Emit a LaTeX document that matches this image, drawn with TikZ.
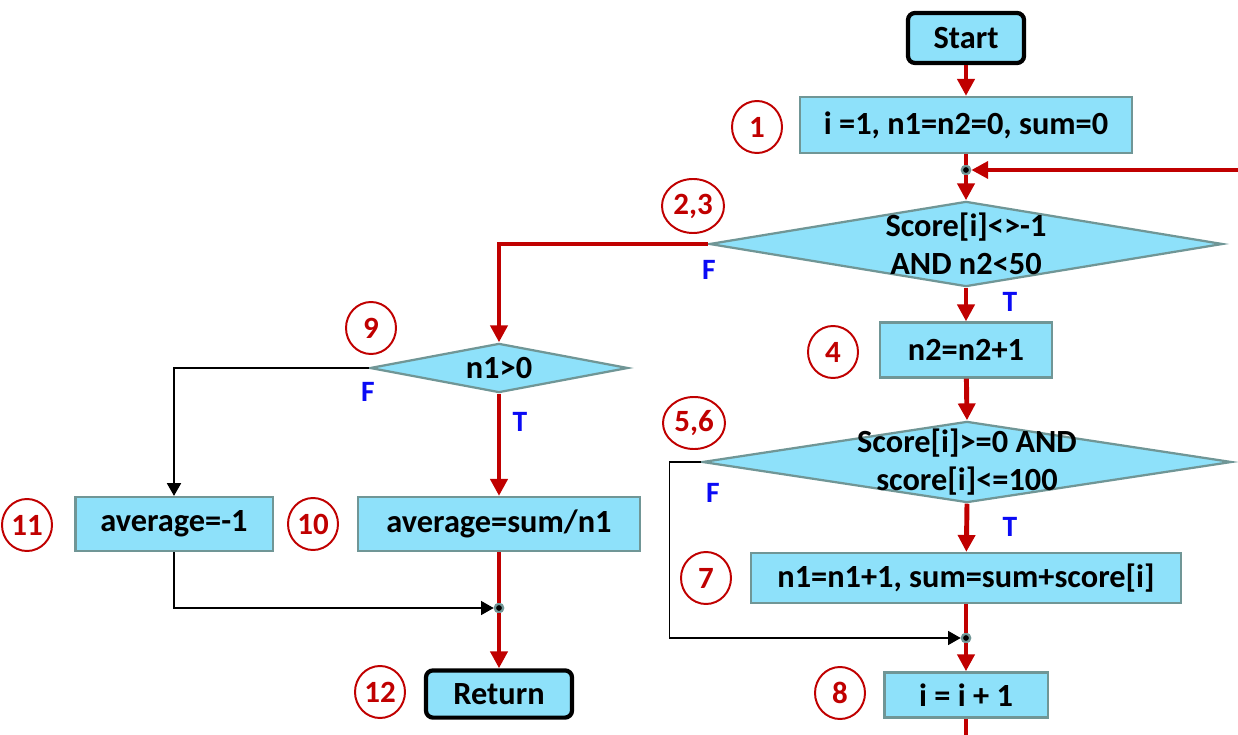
\documentclass[tikz,border=0pt]{standalone}
\usepackage{fontspec}
\setmainfont{Carlito}
\usepackage{tikz}
\usetikzlibrary{arrows.meta,shapes.geometric}
\definecolor{fcblue}{RGB}{142,225,250}
\definecolor{fcedge}{RGB}{112,150,150}
\definecolor{fcred}{RGB}{192,0,0}
\definecolor{fcflag}{RGB}{10,10,245}

\begin{document}
\begin{tikzpicture}[x=0.025cm,y=-0.025cm,font=\bfseries\fontsize{23}{27}\selectfont,
    every node/.style={align=center},
    proc/.style={draw=fcedge,line width=1.6pt,fill=fcblue,inner sep=0pt},
    term/.style={draw=black,line width=3pt,rounded corners=5pt,fill=fcblue,inner sep=0pt},
    cond/.style={diamond,draw=fcedge,line width=1.6pt,fill=fcblue,inner sep=0pt},
    num/.style={ellipse,draw=fcred,line width=1.4pt,text=fcred,inner sep=0pt,minimum width=1.25cm,minimum height=1.3cm,font=\bfseries\fontsize{22}{24}\selectfont},
    flag/.style={text=fcflag,font=\bfseries\fontsize{21}{22}\selectfont},
    dot/.style={circle,draw=fcedge,fill=black,line width=1.6pt,inner sep=0pt,minimum size=6pt},
    redline/.style={fcred,line width=3.5pt},
    redarrow/.style={redline,-{Triangle[length=12pt,width=12pt]}},
    blackline/.style={black,line width=1pt},
    blackarrow/.style={blackline,-{Triangle[length=9pt,width=10pt]}}]
    \useasboundingbox (0,0) rectangle (1238,735);
    % main column
    \node[term,minimum width=2.9cm,minimum height=1.25cm] (start) at (966,38) {Start};
    \node[proc,minimum width=8.28cm,minimum height=1.4cm] (init) at (966,125) {i =1, n1=n2=0, sum=0};
    \node[dot] (j1) at (966,170) {};
    \node[cond,minimum width=12.83cm,minimum height=2.13cm,label={[align=center]center:Score[i]<>-1\\AND n2<50}] (loop) at (966,244) {};
    \node[proc,minimum width=4.3cm,minimum height=1.375cm] (cnt) at (966,350) {n2=n2+1};
    \node[cond,minimum width=13.23cm,minimum height=2.03cm,label={[align=center]center:Score[i]>=0 AND\\score[i]<=100}] (valid) at (967,462) {};
    \node[proc,minimum width=10.73cm,minimum height=1.25cm] (acc) at (966,578) {n1=n1+1, sum=sum+score[i]};
    \node[dot] (j3) at (966,638) {};
    \node[proc,minimum width=4.08cm,minimum height=1.13cm] (next) at (966,695) {i = i + 1};
    % left column
    \node[cond,minimum width=6.45cm,minimum height=1.23cm,label={center:n1>0}] (any) at (499,368) {};
    \node[proc,minimum width=4.93cm,minimum height=1.35cm] (avgneg) at (174,524) {average=-1};
    \node[proc,minimum width=7.05cm,minimum height=1.35cm] (avg) at (499,524) {average=sum/n1};
    \node[dot] (j2) at (499,608) {};
    \node[term,minimum width=3.65cm,minimum height=1.18cm] (ret) at (499,694) {Return};
    % step numbers
    \node[num] (n1) at (757,127) {1};
    \node[num,minimum width=1.55cm,minimum height=1.35cm] (n23) at (693,206) {2,3};
    \node[num] (n4) at (833,352) {4};
    \node[num,minimum width=1.55cm,minimum height=1.3cm] (n56) at (694,423) {5,6};
    \node[num] (n7) at (706,578) {7};
    \node[num] (n8) at (840,693) {8};
    \node[num] (n9) at (371,328) {9};
    \node[num] (n10) at (313,524) {10};
    \node[num] (n11) at (27,525) {11};
    \node[num] (n12) at (380,692) {12};
    % T / F
    \node[flag] (f1) at (709,270) {F};
    \node[flag] (t1) at (1010,302) {T};
    \node[flag] (f2) at (713,493) {F};
    \node[flag] (t2) at (1010,527) {T};
    \node[flag] (f3) at (368,392) {F};
    \node[flag] (t3) at (520,422) {T};
    % connectors
    \draw[redarrow] (start)--(init);
    \draw[redline] (init)--(j1);
    \draw[redarrow] (j1)--(loop.north);
    \draw[redarrow] (loop.south)--(cnt);
    \draw[redarrow] (cnt)--(valid.north);
    \draw[redarrow] (valid.south)--(acc);
    \draw[redline] (acc)--(j3);
    \draw[redarrow] (j3)--(next);
    \draw[redarrow] (next.south) |- (1262,738) |- (j1);
    \draw[blackarrow] (valid.west) -- ++(-32,0) |- (j3);
    \draw[redarrow] (loop.west) -| (any.north);
    \draw[blackarrow] (any.west) -| (avgneg.north);
    \draw[redarrow] (any.south)--(avg);
    \draw[redline] (avg)--(j2);
    \draw[redarrow] (j2)--(ret);
    \draw[blackarrow] (avgneg.south) |- (j2);
\end{tikzpicture}
\end{document}
